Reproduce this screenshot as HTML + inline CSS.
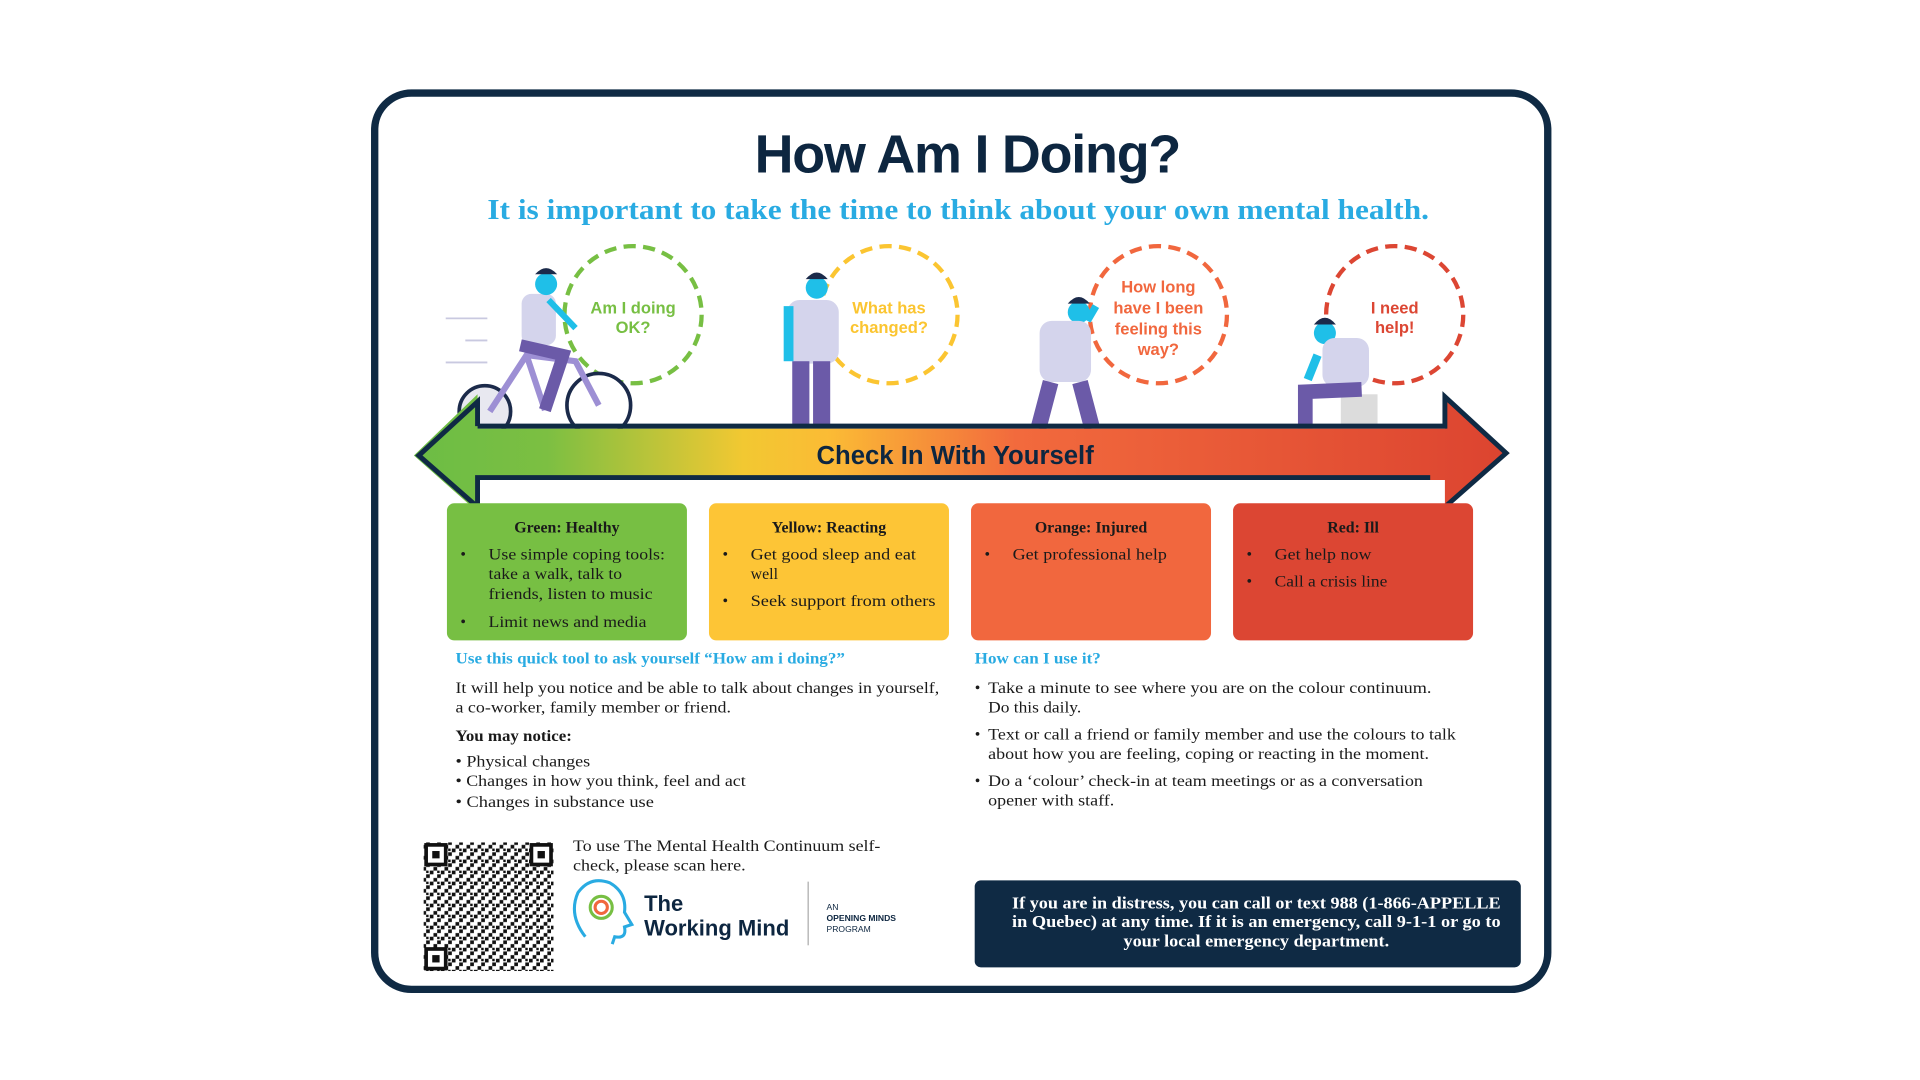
<!DOCTYPE html>
<html><head><meta charset="utf-8"><style>html,body{margin:0;padding:0;background:#fff;width:1920px;height:1080px;overflow:hidden}</style></head>
<body>
<svg width="1920" height="1080" viewBox="0 0 1568 882" xmlns="http://www.w3.org/2000/svg">
<defs>
<linearGradient id="g" x1="340" y1="0" x2="1230" y2="0" gradientUnits="userSpaceOnUse">
<stop offset="0" stop-color="#6cbd45"/><stop offset="0.12" stop-color="#7cbf42"/><stop offset="0.3" stop-color="#f2c832"/><stop offset="0.38" stop-color="#fbbb35"/><stop offset="0.55" stop-color="#f26a3d"/><stop offset="1" stop-color="#dc4430"/>
</linearGradient>
<pattern id="qr" width="9" height="9" patternUnits="userSpaceOnUse">
<rect x="0" y="0" width="3" height="3" fill="#111"/><rect x="6" y="3" width="3" height="3" fill="#111"/><rect x="3" y="6" width="3" height="3" fill="#111"/><rect x="6" y="0" width="2" height="2" fill="#111"/>
</pattern>
</defs>
<rect x="306" y="76" width="958" height="732" rx="30" fill="#fff" stroke="#0f2a44" stroke-width="6"/>
<text x="790" y="141" text-anchor="middle" font-family="Liberation Sans, sans-serif" font-weight="bold" font-size="44" fill="#0d2640" letter-spacing="-1">How Am I Doing?</text>
<text x="398" y="179" textLength="769" lengthAdjust="spacingAndGlyphs" font-family="Liberation Serif, serif" font-weight="bold" font-size="23" fill="#29abe2">It is important to take the time to think about your own mental health.</text>

<g fill="none" stroke-width="3.5" stroke-dasharray="10 6">
<circle cx="517" cy="257" r="56" stroke="#77bf43"/>
<circle cx="726" cy="257" r="56" stroke="#fbc531"/>
<circle cx="946" cy="257" r="56" stroke="#f1673e"/>
<circle cx="1139" cy="257" r="56" stroke="#dc4633"/>
</g>
<g font-family="Liberation Sans, sans-serif" font-weight="bold" font-size="13.5" text-anchor="middle">
<text x="517" y="256" fill="#77bf43">Am I doing</text><text x="517" y="272" fill="#77bf43">OK?</text>
<text x="726" y="256" fill="#fbc531">What has</text><text x="726" y="272" fill="#fbc531">changed?</text>
<text x="946" y="239" fill="#f1673e">How long</text><text x="946" y="256" fill="#f1673e">have I been</text><text x="946" y="273" fill="#f1673e">feeling this</text><text x="946" y="290" fill="#f1673e">way?</text>
<text x="1139" y="256" fill="#dc4633">I need</text><text x="1139" y="272" fill="#dc4633">help!</text>
</g>

<g stroke="#c9c9e0" stroke-width="1.5"><line x1="364" y1="260" x2="398" y2="260"/><line x1="380" y1="278" x2="398" y2="278"/><line x1="364" y1="296" x2="398" y2="296"/></g>
<g>
<circle cx="396" cy="336" r="21" fill="#e8e8f0" stroke="#1b2a4a" stroke-width="3"/>
<circle cx="489" cy="331" r="26" fill="#fff" stroke="#1b2a4a" stroke-width="3"/>
<path d="M400 336 L430 290 L470 295 L489 331 M430 290 L445 335" stroke="#9d8fd4" stroke-width="5" fill="none"/>
<rect x="426" y="240" width="28" height="42" rx="8" fill="#d4d4ec"/>
<circle cx="446" cy="232" r="9" fill="#1fbfe8"/><path d="M437 224 q9 -10 18 0" fill="#1b2a4a"/>
<path d="M448 245 L470 268" stroke="#1fbfe8" stroke-width="5"/>
<path d="M425 282 L460 290 L445 335" stroke="#6b5aa8" stroke-width="10" fill="none"/>
<circle cx="667" cy="235" r="9" fill="#1fbfe8"/><path d="M658 228 q9 -11 18 0" fill="#1b2a4a"/>
<rect x="643" y="245" width="42" height="52" rx="10" fill="#d4d4ec"/>
<rect x="647" y="295" width="14" height="55" fill="#6b5aa8"/><rect x="664" y="295" width="14" height="55" fill="#6b5aa8"/>
<rect x="640" y="250" width="8" height="45" fill="#1fbfe8"/>
<circle cx="881" cy="255" r="9" fill="#1fbfe8"/><path d="M872 248 q9 -11 18 0" fill="#1b2a4a"/>
<rect x="849" y="262" width="42" height="50" rx="10" fill="#d4d4ec"/>
<path d="M858 312 L848 350 M882 312 L892 350" stroke="#6b5aa8" stroke-width="13"/>
<path d="M888 262 L895 250" stroke="#1fbfe8" stroke-width="6"/>
<circle cx="1082" cy="272" r="9" fill="#1fbfe8"/><path d="M1073 265 q9 -11 18 0" fill="#1b2a4a"/>
<rect x="1080" y="276" width="38" height="40" rx="10" fill="#d4d4ec"/>
<rect x="1095" y="322" width="30" height="28" fill="#dcdcdc"/>
<path d="M1066 350 L1066 320 L1112 318" stroke="#6b5aa8" stroke-width="12" fill="none"/>
<path d="M1068 310 L1076 290" stroke="#1fbfe8" stroke-width="7"/>
</g>

<path d="M338 372 L390 322 L390 350 L1180 350 L1180 322 L1230 370 L1180 416 L1180 392 L390 392 L390 418 Z" fill="url(#g)"/>
<path d="M390 348 L1180 348 L1180 324 L1230 370 L1180 414 M1168 390 L390 390 L390 414 L342 372 L390 328 L390 348" fill="none" stroke="#0f2a44" stroke-width="4" stroke-linejoin="miter"/>
<text x="780" y="379" text-anchor="middle" font-family="Liberation Sans, sans-serif" font-weight="bold" font-size="21" fill="#0d2640">Check In With Yourself</text>

<rect x="365" y="411" width="196" height="112" rx="6" fill="#77bf43"/>
<rect x="579" y="411" width="196" height="112" rx="6" fill="#fdc536"/>
<rect x="793" y="411" width="196" height="112" rx="6" fill="#f1673e"/>
<rect x="1007" y="411" width="196" height="112" rx="6" fill="#dc4633"/>
<g font-family="Liberation Serif, serif" font-size="13" fill="#1a1a1a" lengthAdjust="spacingAndGlyphs">
<g font-weight="bold" text-anchor="middle"><text x="463" y="435">Green: Healthy</text><text x="677" y="435">Yellow: Reacting</text><text x="891" y="435">Orange: Injured</text><text x="1105" y="435">Red: Ill</text></g>
<text x="376" y="457">•</text><text x="399" y="457" textLength="144" lengthAdjust="spacingAndGlyphs">Use simple coping tools:</text><text x="399" y="473" textLength="109" lengthAdjust="spacingAndGlyphs">take a walk, talk to</text><text x="399" y="489" textLength="134" lengthAdjust="spacingAndGlyphs">friends, listen to music</text>
<text x="376" y="512">•</text><text x="399" y="512" textLength="129" lengthAdjust="spacingAndGlyphs">Limit news and media</text>
<text x="590" y="457">•</text><text x="613" y="457" textLength="135" lengthAdjust="spacingAndGlyphs">Get good sleep and eat</text><text x="613" y="473">well</text>
<text x="590" y="495">•</text><text x="613" y="495" textLength="151" lengthAdjust="spacingAndGlyphs">Seek support from others</text>
<text x="804" y="457">•</text><text x="827" y="457" textLength="126" lengthAdjust="spacingAndGlyphs">Get professional help</text>
<text x="1018" y="457">•</text><text x="1041" y="457" textLength="79" lengthAdjust="spacingAndGlyphs">Get help now</text>
<text x="1018" y="479">•</text><text x="1041" y="479" textLength="92" lengthAdjust="spacingAndGlyphs">Call a crisis line</text>
</g>

<g font-family="Liberation Serif, serif" font-size="13" fill="#1a1a1a">
<text x="372" y="542" font-weight="bold" fill="#29abe2" textLength="318" lengthAdjust="spacingAndGlyphs">Use this quick tool to ask yourself “How am i doing?”</text>
<text x="372" y="566" textLength="395" lengthAdjust="spacingAndGlyphs">It will help you notice and be able to talk about changes in yourself,</text>
<text x="372" y="582" textLength="225" lengthAdjust="spacingAndGlyphs">a co-worker, family member or friend.</text>
<text x="372" y="605" font-weight="bold" textLength="95" lengthAdjust="spacingAndGlyphs">You may notice:</text>
<text x="372" y="626" textLength="110" lengthAdjust="spacingAndGlyphs">• Physical changes</text>
<text x="372" y="642" textLength="237" lengthAdjust="spacingAndGlyphs">• Changes in how you think, feel and act</text>
<text x="372" y="659" textLength="162" lengthAdjust="spacingAndGlyphs">• Changes in substance use</text>
<text x="796" y="542" font-weight="bold" fill="#29abe2" textLength="103" lengthAdjust="spacingAndGlyphs">How can I use it?</text>
<text x="796" y="566">•</text><text x="807" y="566" textLength="362" lengthAdjust="spacingAndGlyphs">Take a minute to see where you are on the colour continuum.</text>
<text x="807" y="582" textLength="76" lengthAdjust="spacingAndGlyphs">Do this daily.</text>
<text x="796" y="604">•</text><text x="807" y="604" textLength="382" lengthAdjust="spacingAndGlyphs">Text or call a friend or family member and use the colours to talk</text>
<text x="807" y="620" textLength="360" lengthAdjust="spacingAndGlyphs">about how you are feeling, coping or reacting in the moment.</text>
<text x="796" y="642">•</text><text x="807" y="642" textLength="355" lengthAdjust="spacingAndGlyphs">Do a ‘colour’ check-in at team meetings or as a conversation</text>
<text x="807" y="658" textLength="103" lengthAdjust="spacingAndGlyphs">opener with staff.</text>
<text x="468" y="695" textLength="251" lengthAdjust="spacingAndGlyphs">To use The Mental Health Continuum self-</text>
<text x="468" y="711" textLength="141" lengthAdjust="spacingAndGlyphs">check, please scan here.</text>
</g>

<rect x="346" y="688" width="106" height="105" fill="url(#qr)"/>
<g fill="#fff" stroke="#111" stroke-width="3">
<rect x="348" y="690" width="16" height="16"/><rect x="434" y="690" width="16" height="16"/><rect x="348" y="775" width="16" height="16"/>
</g>
<g fill="#111"><rect x="353" y="695" width="6" height="6"/><rect x="439" y="695" width="6" height="6"/><rect x="353" y="780" width="6" height="6"/></g>

<path d="M478 765 q-14 -18 -6 -36 q10 -14 26 -8 q14 8 12 24 l6 10 l-6 2 q2 10 -8 8 l-2 6" fill="none" stroke="#29abe2" stroke-width="2.5"/>
<circle cx="491" cy="741" r="9" fill="none" stroke="#77bf43" stroke-width="2.5"/>
<circle cx="491" cy="741" r="5" fill="none" stroke="#f1673e" stroke-width="2.5"/>
<text x="526" y="744" font-family="Liberation Sans, sans-serif" font-weight="bold" font-size="18" fill="#0d2640">The</text>
<text x="526" y="764" font-family="Liberation Sans, sans-serif" font-weight="bold" font-size="18" fill="#0d2640">Working Mind</text>
<line x1="660" y1="720" x2="660" y2="772" stroke="#aaa" stroke-width="1"/>
<g font-family="Liberation Sans, sans-serif" font-size="7" fill="#0d2640"><text x="675" y="743">AN</text><text x="675" y="752" font-weight="bold">OPENING MINDS</text><text x="675" y="761">PROGRAM</text></g>

<rect x="796" y="719" width="446" height="71" rx="5" fill="#0f2a44"/>
<g font-family="Liberation Serif, serif" font-weight="bold" font-size="14" fill="#fff" text-anchor="middle">
<text x="1026" y="742" textLength="399" lengthAdjust="spacingAndGlyphs">If you are in distress, you can call or text 988 (1-866-APPELLE</text>
<text x="1026" y="757" textLength="399" lengthAdjust="spacingAndGlyphs">in Quebec) at any time.  If it is an emergency, call 9-1-1 or go to</text>
<text x="1026" y="773" textLength="217" lengthAdjust="spacingAndGlyphs">your local emergency department.</text>
</g>
</svg>
</body></html>
